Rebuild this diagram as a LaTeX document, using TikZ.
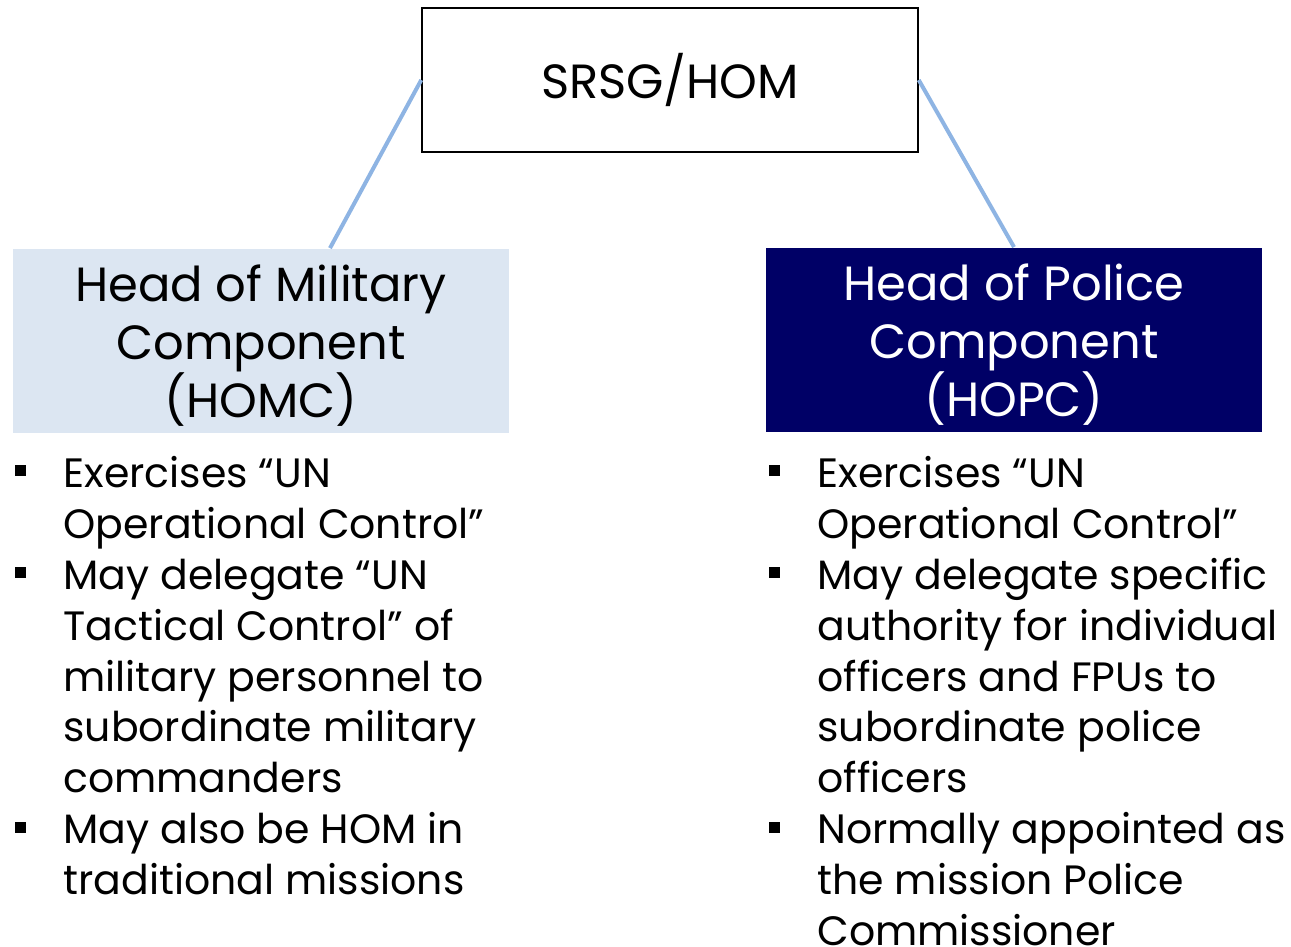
\documentclass[tikz,border=0pt]{standalone}
\usepackage{fontspec}
\setmainfont{Poppins}
\definecolor{milblue}{HTML}{DCE6F2}
\definecolor{polnavy}{HTML}{000066}
\definecolor{linkblue}{HTML}{8EB4E3}
\newcommand{\sqbul}{\makebox[24pt][l]{\rule[5.5pt]{5.5pt}{5.5pt}}}
\newcommand{\nobul}{\hspace*{24pt}}
\begin{document}
\begin{tikzpicture}[x=0.5pt,y=-0.5pt,
    headbox/.style={minimum width=248pt,minimum height=92pt,inner sep=0pt,align=center,font=\fontsize{24}{29}\selectfont},
    itemlist/.style={anchor=north west,inner sep=0pt,align=left,font=\fontsize{20.5}{25.45}\selectfont},
    link/.style={color=linkblue,line width=2pt}]
    \useasboundingbox (0,0) rectangle (1291,947);
    \node[draw,line width=0.75pt,minimum width=248pt,minimum height=72pt,font=\fontsize{24}{29}\selectfont] (hom) at (670,80) {SRSG/HOM};
    \node[headbox,fill=milblue] (homc) at (261,340.5) {\rule{0pt}{23.5pt}Head of Military\\Component\\(HOMC)};
    \node[headbox,fill=polnavy,text=white] (hopc) at (1014,339.5) {\rule{0pt}{23.5pt}Head of Police\\Component\\(HOPC)};
    \draw[link] (hom.west) -- ([xshift=34.5pt]homc.north);
    \draw[link] (hom.east) -- (hopc.north);
    \node[itemlist] (milist) at (15,451.4) {\strut\sqbul Exercises “UN\\
        \nobul Operational Control”\\
        \sqbul May delegate “UN\\
        \nobul Tactical Control” of\\
        \nobul military personnel to\\
        \nobul subordinate military\\
        \nobul commanders\\
        \sqbul May also be HOM in\\
        \nobul traditional missions};
    \node[itemlist] (polist) at (769,451.4) {\strut\sqbul Exercises “UN\\
        \nobul Operational Control”\\
        \sqbul May delegate specific\\
        \nobul authority for individual\\
        \nobul officers and FPUs to\\
        \nobul subordinate police\\
        \nobul officers\\
        \sqbul Normally appointed as\\
        \nobul the mission Police\\
        \nobul Commissioner};
\end{tikzpicture}
\end{document}
